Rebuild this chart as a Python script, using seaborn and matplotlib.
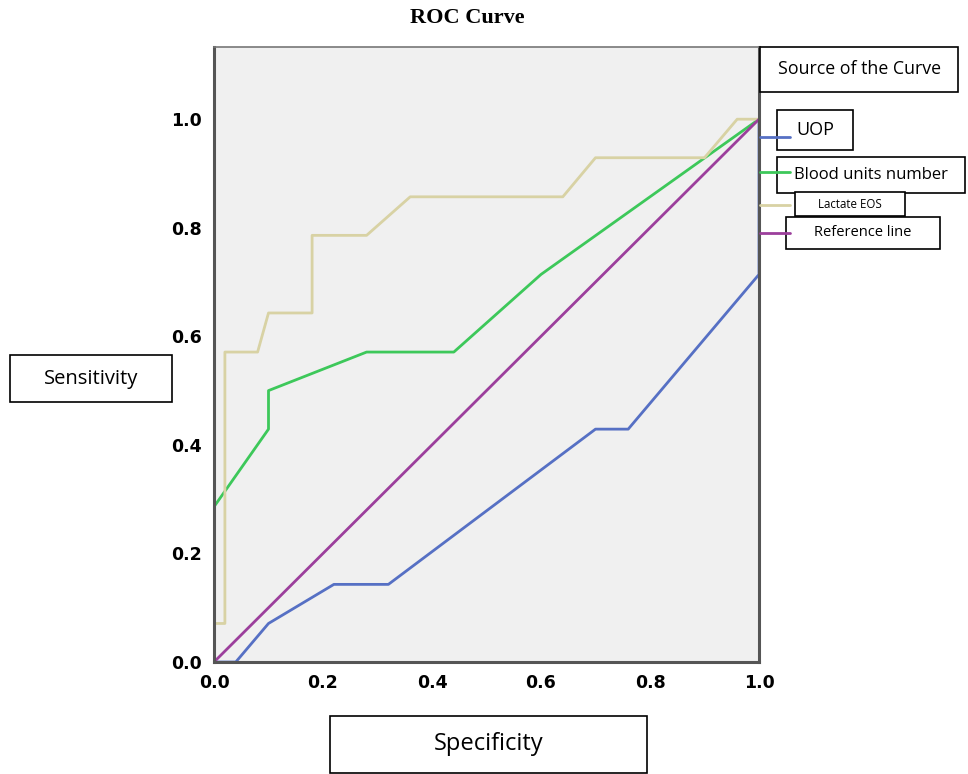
import pandas as pd
import matplotlib.pyplot as plt
import seaborn as sns
from matplotlib.patches import Rectangle
from matplotlib.lines import Line2D

# ROC curve points (1 - specificity on x, sensitivity on y)
uop_x = [0.0, 0.04, 0.10, 0.22, 0.32, 0.70, 0.76, 1.0, 1.0]
uop_y = [0.0, 0.0, 0.071, 0.143, 0.143, 0.429, 0.429, 0.714, 1.0]

blood_x = [0.0, 0.0, 0.10, 0.10, 0.28, 0.44, 0.60, 1.0]
blood_y = [0.0, 0.286, 0.429, 0.50, 0.571, 0.571, 0.714, 1.0]

lactate_x = [0.0, 0.0, 0.02, 0.02, 0.08, 0.10, 0.18, 0.18, 0.28, 0.36, 0.64, 0.70, 0.90, 0.96, 1.0]
lactate_y = [0.0, 0.071, 0.071, 0.571, 0.571, 0.643, 0.643, 0.786, 0.786, 0.857, 0.857, 0.929, 0.929, 1.0, 1.0]

ref_x = [0.0, 1.0]
ref_y = [0.0, 1.0]

curve_names = ["UOP", "Blood units number", "Lactate EOS", "Reference line"]
curve_colors = ["#5670c4", "#3dc85a", "#d8d2a4", "#9c3f9c"]
x_ticks = [0.0, 0.2, 0.4, 0.6, 0.8, 1.0]

# long table for seaborn
rows = []
for name, xs, ys in zip(curve_names, [uop_x, blood_x, lactate_x, ref_x], [uop_y, blood_y, lactate_y, ref_y]):
    for i, (a, b) in enumerate(zip(xs, ys)):
        rows.append({"curve": name, "order": i, "x": a, "y": b})
df = pd.DataFrame(rows)

sns.set_style("white")
plt.rcParams["text.color"] = "black"
plt.rcParams["xtick.color"] = "black"
plt.rcParams["ytick.color"] = "black"
W, H = 968, 774
fig = plt.figure(figsize=(W / 100, H / 100), dpi=100)

# axes placed by pixel box
def fx(px):
    return px / W

def fy(py):
    return 1 - py / H

ax = fig.add_axes([fx(214), fy(662), fx(759) - fx(214), fy(47) - fy(662)])
ax.set_facecolor("#f0f0f0")

sns.lineplot(data=df, x="x", y="y", hue="curve", hue_order=curve_names,
             palette=dict(zip(curve_names, curve_colors)), sort=False,
             estimator=None, units="curve", linewidth=2.0, legend=False, ax=ax)

ax.set_xlim(0, 1)
ax.set_ylim(0, 1.133)
ax.set_xticks(x_ticks)
ax.set_yticks(x_ticks)
ax.set_xticklabels([f"{t:.1f}" for t in x_ticks], fontweight="bold", fontsize=12.5)
ax.set_yticklabels([f"{t:.1f}" for t in x_ticks], fontweight="bold", fontsize=12.5)
ax.tick_params(axis="both", direction="out", length=6, width=2, color="#333333", pad=3)
ax.set_xlabel("")
ax.set_ylabel("")
for side in ["left", "bottom", "right"]:
    ax.spines[side].set_color("#555555")
    ax.spines[side].set_linewidth(2.2)
ax.spines["top"].set_color("#777777")
ax.spines["top"].set_linewidth(1.2)

fig.text(fx(467), fy(18), "ROC Curve", ha="center", va="center",
         fontsize=16, fontweight="bold", family="Liberation Serif")

# boxed labels, given in pixel coordinates
def box_label(x0, y0, x1, y1, text, size):
    fig.patches.append(Rectangle((fx(x0), fy(y1)), fx(x1) - fx(x0), fy(y0) - fy(y1),
                                 transform=fig.transFigure, facecolor="white",
                                 edgecolor="black", linewidth=1.2))
    fig.text(fx((x0 + x1) / 2), fy((y0 + y1) / 2), text, ha="center", va="center",
             fontsize=size, family="Open Sans")

box_label(760, 47, 958, 92, "Source of the Curve", 12.8)

# legend stubs beside the axes
stub_y = [137, 172, 205, 233]
for yy, c in zip(stub_y, curve_colors):
    fig.add_artist(Line2D([fx(760), fx(790)], [fy(yy), fy(yy)], color=c, linewidth=2.0,
                          transform=fig.transFigure))

box_label(777, 110, 853, 150, "UOP", 13)
box_label(777, 157, 965, 193, "Blood units number", 12)
box_label(795, 192, 905, 216, "Lactate EOS", 8.3)
box_label(786, 217, 940, 249, "Reference line", 10.5)

box_label(10, 355, 172, 402, "Sensitivity", 14.5)
box_label(330, 716, 647, 773, "Specificity", 17)

fig.savefig("out.png", dpi=100)
